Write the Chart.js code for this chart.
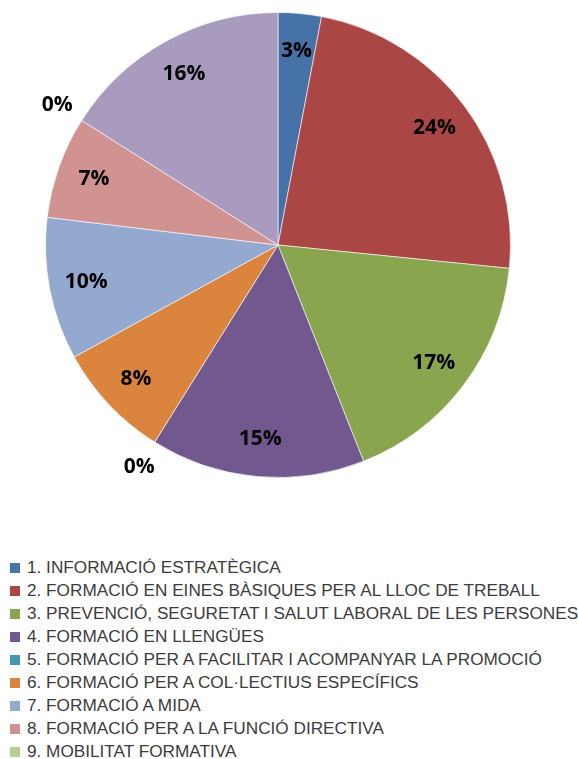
<!DOCTYPE html>
<html>
<head>
<meta charset="utf-8">
<script src="https://cdn.jsdelivr.net/npm/chart.js@4/dist/chart.umd.min.js"></script>
<style>
  body { margin: 0; background: #fff; }
  #wrap { position: relative; width: 578px; height: 759px; overflow: hidden; }
  #pieBox { position: absolute; left: 0; top: 0; width: 578px; height: 490px; }
  #legend { position: absolute; left: 10px; top: 556px; font-family: "Liberation Sans", Arial, sans-serif; font-size: 17.2px; color: #3c3c3c; }
  .row { height: 23px; display: flex; align-items: center; white-space: nowrap; }
  .box { width: 10px; height: 10px; margin-right: 7px; flex: none; }
</style>
</head>
<body>
<div id="wrap">
  <div id="pieBox"><canvas id="pie"></canvas></div>
  <div id="legend"></div>
</div>
<script>
// categories (the 10th slice has no visible legend entry in the source)
const categories = [
  "1. INFORMACIÓ ESTRATÈGICA",
  "2. FORMACIÓ EN EINES BÀSIQUES PER AL LLOC DE TREBALL",
  "3. PREVENCIÓ, SEGURETAT I SALUT LABORAL DE LES PERSONES",
  "4. FORMACIÓ EN LLENGÜES",
  "5. FORMACIÓ PER A FACILITAR I ACOMPANYAR LA PROMOCIÓ",
  "6. FORMACIÓ PER A COL·LECTIUS ESPECÍFICS",
  "7. FORMACIÓ A MIDA",
  "8. FORMACIÓ PER A LA FUNCIÓ DIRECTIVA",
  "9. MOBILITAT FORMATIVA",
  "10."
];
const shares = [3.0, 23.6, 17.4, 14.9, 0, 8.1, 9.9, 7.1, 0, 16.0];
const legendCount = 9;
const colors = ["#4672A8", "#AA4644", "#89A64E", "#71588F", "#4198AF",
                "#DB843D", "#93A9CF", "#D19392", "#B9CD96", "#A99BBD"];

// ---- legend (HTML, one item per line) ----
const legendEl = document.getElementById("legend");
categories.slice(0, legendCount).forEach((c, i) => {
  const row = document.createElement("div");
  row.className = "row";
  row.innerHTML = '<span class="box" style="background:' + colors[i] + '"></span><span></span>';
  row.lastChild.textContent = c;
  legendEl.appendChild(row);
});

// ---- percentage labels on the slices ----
const pctLabels = {
  id: "pctLabels",
  afterDatasetsDraw(chart) {
    const ctx = chart.ctx;
    const meta = chart.getDatasetMeta(0);
    const data = chart.data.datasets[0].data;
    const total = data.reduce((s, v) => s + v, 0);
    ctx.save();
    ctx.font = "bold 21px 'Open Sans', sans-serif";
    ctx.fillStyle = "#000";
    ctx.textAlign = "center";
    ctx.textBaseline = "middle";
    meta.data.forEach((arc, i) => {
      const p = arc.getProps(["x", "y", "startAngle", "endAngle", "outerRadius"], true);
      const mid = (p.startAngle + p.endAngle) / 2;
      const r = data[i] === 0 ? p.outerRadius + 29 : p.outerRadius * 0.84;
      const txt = Math.round(data[i] / total * 100) + "%";
      ctx.fillText(txt, p.x + Math.cos(mid) * r, p.y + Math.sin(mid) * r);
    });
    ctx.restore();
  }
};

new Chart(document.getElementById("pie"), {
  type: "pie",
  data: {
    labels: categories,
    datasets: [{
      data: shares,
      backgroundColor: colors,
      borderColor: "rgba(255,255,255,0.6)",
      borderWidth: 1,
      hoverOffset: 0
    }]
  },
  options: {
    responsive: true,
    maintainAspectRatio: false,
    animation: false,
    layout: { padding: { left: 45, right: 67, top: 12, bottom: 12 } },
    plugins: { legend: { display: false }, tooltip: { enabled: false } }
  },
  plugins: [pctLabels]
});
</script>
</body>
</html>
